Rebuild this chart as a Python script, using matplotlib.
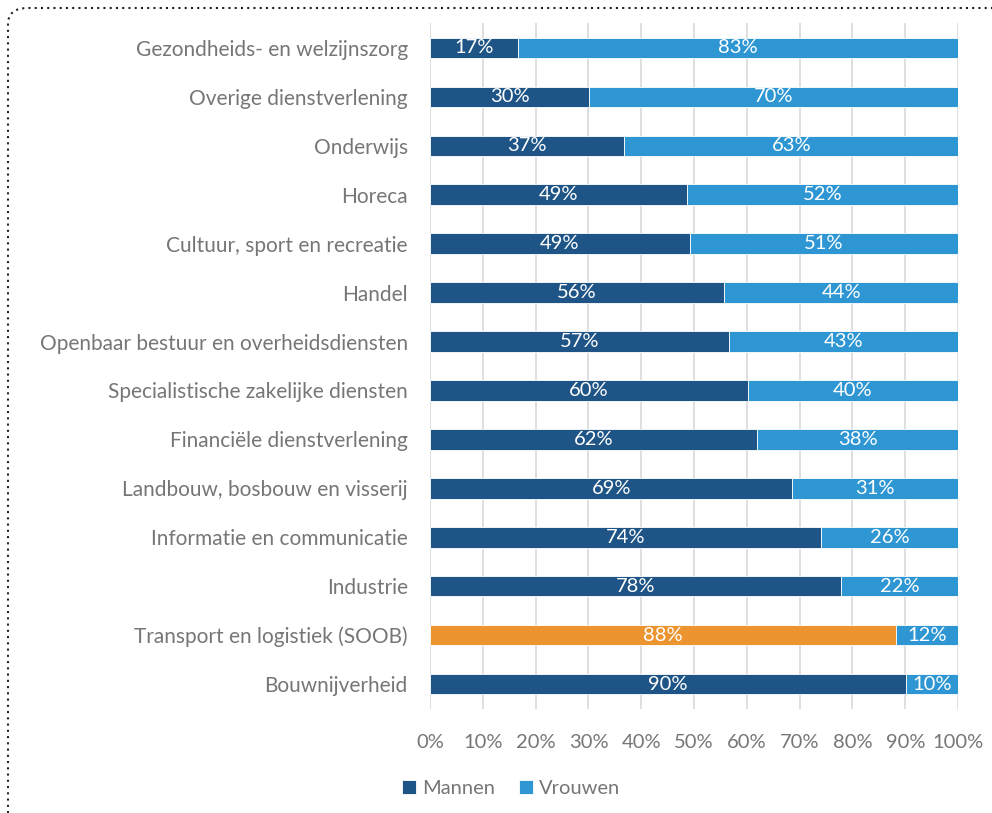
import numpy as np
import matplotlib.pyplot as plt
from matplotlib.patches import FancyBboxPatch

sectoren = [
    'Gezondheids- en welzijnszorg',
    'Overige dienstverlening',
    'Onderwijs',
    'Horeca',
    'Cultuur, sport en recreatie',
    'Handel',
    'Openbaar bestuur en overheidsdiensten',
    'Specialistische zakelijke diensten',
    'Financiële dienstverlening',
    'Landbouw, bosbouw en visserij',
    'Informatie en communicatie',
    'Industrie',
    'Transport en logistiek (SOOB)',
    'Bouwnijverheid',
]
mannen = [16.7, 30.1, 36.8, 48.6, 49.2, 55.7, 56.6, 60.2, 61.9, 68.6, 74.1, 77.8, 88.3, 90.2]
vrouwen = [83.3, 69.9, 63.2, 51.6, 50.8, 44.3, 43.4, 39.8, 38.1, 31.4, 25.9, 22.2, 11.7, 9.8]
uitgelicht = 'Transport en logistiek (SOOB)'

kleur_man = '#1F5586'
kleur_vrouw = '#2E96D2'
kleur_oranje = '#EC9430'
grijs = '#767676'

plt.rcParams['font.family'] = ['Lato', 'DejaVu Sans']

fig = plt.figure(figsize=(9.92, 8.13), dpi=100)
ax = fig.add_axes([0.4335, 0.1285, 0.5323, 0.8426])

y = np.arange(len(sectoren))
kleuren_m = [kleur_oranje if s == uitgelicht else kleur_man for s in sectoren]

b1 = ax.barh(y, mannen, height=0.42, color=kleuren_m, edgecolor='white', linewidth=0.6,
             label='Mannen', zorder=3)
b2 = ax.barh(y, vrouwen, left=mannen, height=0.42, color=kleur_vrouw, edgecolor='white',
             linewidth=0.6, label='Vrouwen', zorder=3)

for i in range(len(sectoren)):
    ax.text(mannen[i] / 2, y[i], f'{mannen[i]:.0f}%', ha='center', va='center',
            color='white', fontsize=14.5, zorder=4)
    ax.text(mannen[i] + vrouwen[i] / 2, y[i], f'{vrouwen[i]:.0f}%', ha='center', va='center',
            color='white', fontsize=14.5, zorder=4)

ax.set_ylim(len(sectoren) - 0.5, -0.5)
ax.set_xlim(0, 100)
ax.set_yticks(y)
ax.set_yticklabels(sectoren, fontsize=15, color=grijs)
ax.set_xticks(np.arange(0, 101, 10))
ax.set_xticklabels([f'{v}%' for v in range(0, 101, 10)], fontsize=14.5, color=grijs)
ax.tick_params(axis='y', length=0, pad=16)
ax.tick_params(axis='x', length=0, pad=18)
ax.grid(axis='x', color='#D9D9D9', linewidth=1.2, zorder=0)
for s in ax.spines.values():
    s.set_visible(False)

leg = fig.legend(handles=[b1.patches[0], b2], labels=['Mannen', 'Vrouwen'],
                 loc='center', bbox_to_anchor=(0.515, 0.03), ncol=2, frameon=False,
                 fontsize=14.5, handlelength=0.7, handleheight=0.7, handletextpad=0.3,
                 columnspacing=1.2)
leg.legend_handles[0].set_facecolor(kleur_man)
for t in leg.get_texts():
    t.set_color(grijs)

# gestippelde rand
rand = FancyBboxPatch((8 / 992, -0.1), 1.2, 1 - 8 / 813 + 0.1,
                      boxstyle='round,pad=0,rounding_size=0.02',
                      transform=fig.transFigure, fill=False, edgecolor='#222222',
                      linestyle=(0, (1, 2)), linewidth=1.5, clip_on=False)
fig.patches.append(rand)

fig.savefig('out.png', dpi=100)
